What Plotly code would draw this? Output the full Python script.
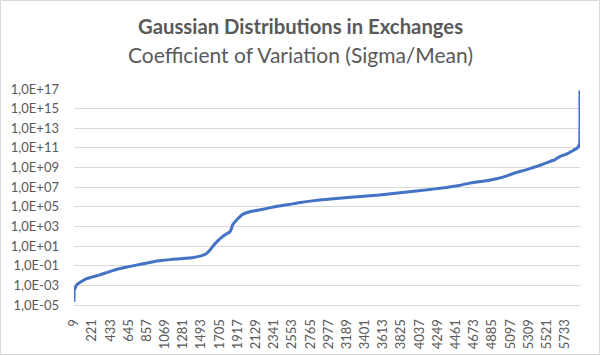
import plotly.graph_objects as go

row_index = [9, 11, 20, 47, 150, 301, 450, 613, 800, 1002, 1200, 1391, 1480, 1547, 1590, 1624, 1680,
             1741, 1800, 1828, 1845, 1858, 1920, 1975, 2050, 2170, 2350, 2559, 2700, 2871, 3200,
             3571, 4000, 4350, 4500, 4623, 4850, 5012, 5080, 5168, 5270, 5362, 5450, 5557, 5620,
             5674, 5760, 5829, 5880, 5905, 5909]
cv_values = [2.1e-5, 3.0e-4, 5.0e-4, 1.3e-3, 4.5e-3, 1.1e-2, 3.0e-2, 6.9e-2, 0.15, 0.32, 0.48, 0.66,
             0.95, 1.55, 3.5, 8.7, 30, 91, 200, 295, 600, 1.4e3, 6.0e3, 1.7e4, 3.0e4, 4.8e4, 1.0e5,
             2.0e5, 3.2e5, 5.0e5, 9.0e5, 1.6e6, 4.0e6, 9.1e6, 1.5e7, 2.6e7, 5.0e7, 1.05e8, 1.7e8,
             3.1e8, 5.5e8, 1.0e9, 1.8e9, 4.1e9, 6.5e9, 1.3e10, 2.5e10, 5.4e10, 1.0e11, 2.5e11, 7.0e16]

x_tick_labels = [9, 221, 433, 645, 857, 1069, 1281, 1493, 1705, 1917, 2129, 2341, 2553, 2765, 2977,
                 3189, 3401, 3613, 3825, 4037, 4249, 4461, 4673, 4885, 5097, 5309, 5521, 5733]
y_tick_exponents = [-5, -3, -1, 1, 3, 5, 7, 9, 11, 13, 15, 17]

title_text = "Gaussian Distributions in Exchanges"
subtitle_text = "Coefficient of Variation (Sigma/Mean)"

y_tickvals = [10.0 ** e for e in y_tick_exponents]
y_ticktext = ["1,0E{}{:02d}".format("+" if e >= 0 else "-", abs(e)) for e in y_tick_exponents]

fig = go.Figure()
fig.add_trace(go.Scatter(
    x=row_index, y=cv_values, mode="lines",
    line=dict(color="#4472C4", width=3, shape="spline", smoothing=0.3),
    hoverinfo="x+y", showlegend=False,
))

W, H = 600, 356
ml, mr, mt, mb = 74, 20, 89, 51
pw, ph = W - ml - mr, H - mt - mb

fig.update_layout(
    width=W, height=H,
    margin=dict(l=ml, r=mr, t=mt, b=mb, pad=0, autoexpand=False),
    paper_bgcolor="white", plot_bgcolor="white",
    font=dict(family="Lato, Carlito, Calibri, sans-serif", color="#595959", size=13),
    xaxis=dict(
        range=[9, 5910], tickmode="array", tickvals=x_tick_labels,
        ticktext=[str(v) for v in x_tick_labels], tickangle=-90, automargin=False,
        showgrid=False, zeroline=False, showline=True, linecolor="#d9d9d9", linewidth=1,
        ticks="", ticklabelstandoff=8, tickfont=dict(size=13, color="#595959"),
    ),
    yaxis=dict(
        type="log", range=[-5, 17], tickmode="array", tickvals=y_tickvals, ticktext=y_ticktext,
        automargin=False,
        showgrid=True, gridcolor="#d9d9d9", gridwidth=1, zeroline=False, showline=False,
        ticks="", ticklabelstandoff=14, tickfont=dict(size=13, color="#595959"),
    ),
    annotations=[
        dict(text="<b>" + title_text + "</b>", xref="paper", yref="paper",
             x=(300 - ml) / pw, y=(H - mb - 26) / ph, xanchor="center", yanchor="middle",
             showarrow=False, font=dict(size=20.3, color="#595959", family="Lato, sans-serif")),
        dict(text=subtitle_text, xref="paper", yref="paper",
             x=(300 - ml) / pw, y=(H - mb - 54) / ph, xanchor="center", yanchor="middle",
             showarrow=False, font=dict(size=21, color="#595959", family="Lato, sans-serif")),
    ],
    shapes=[
        dict(type="rect", xref="paper", yref="paper",
             x0=(0.5 - ml) / pw, x1=(599.5 - ml) / pw,
             y0=(H - mb - 354.5) / ph, y1=(H - mb - 0.5) / ph,
             line=dict(color="#d9d9d9", width=1), fillcolor="rgba(0,0,0,0)", layer="below"),
    ],
)

fig.write_html("out.html", config={"displayModeBar": False},
               post_script="document.body.style.margin='0px';document.body.style.padding='0px';")
